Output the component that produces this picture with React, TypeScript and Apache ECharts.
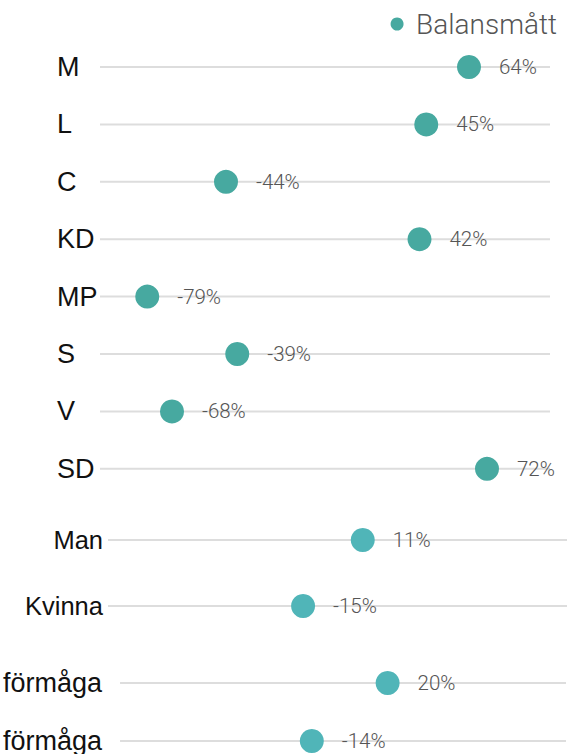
import React, { useEffect, useRef } from "react";
import * as echarts from "echarts";

const seriesName = "Balansmått";
const partyCats = ["M", "L", "C", "KD", "MP", "S", "V", "SD"];
const partyValues = [64, 45, -44, 42, -79, -39, -68, 72];
const genderCats = ["Man", "Kvinna"];
const genderValues = [11, -15];
const abilityCats = ["förmåga", "förmåga"];
const abilityValues = [20, -14];

const partyColor = "#47a9a0";
const groupColor = "#50b5b8";
const lineColor = "#dddddd";

const H = 800;

export default function App() {
  const ref = useRef<HTMLDivElement>(null);
  useEffect(() => {
    if (!ref.current) return;
    const chart = echarts.init(ref.current, null, { renderer: "svg" });
    const groups = [
      { cats: partyCats, vals: partyValues, color: partyColor, grid: { left: 100, right: 26, top: 38.3, height: 459.2 }, fs: 27, margin: 43, align: "left" },
      { cats: genderCats, vals: genderValues, color: groupColor, grid: { left: 108, right: 9, top: 507, height: 132 }, fs: 25.5, margin: 5, align: "right" },
      { cats: abilityCats, vals: abilityValues, color: groupColor, grid: { left: 118, right: 10, top: 654, height: 116 }, fs: 27, margin: 18, align: "right" },
    ];
    const grid: any[] = [];
    const xAxis: any[] = [];
    const yAxis: any[] = [];
    const series: any[] = [];
    groups.forEach((g, i) => {
      grid.push({ ...g.grid, containLabel: false });
      xAxis.push({
        type: "value",
        gridIndex: i,
        min: -100,
        max: 100,
        show: false,
      });
      yAxis.push({
        type: "category",
        gridIndex: i,
        data: g.cats,
        inverse: true,
        axisLine: { show: false },
        axisTick: { show: false },
        splitLine: { show: false },
        axisLabel: {
          color: "#111",
          fontSize: g.fs,
          fontFamily: "Liberation Sans, Arial, sans-serif",
          margin: g.margin,
          align: g.align,
        },
      });
      series.push({
        type: "bar",
        name: "line" + i,
        xAxisIndex: i,
        yAxisIndex: i,
        barWidth: 2,
        showBackground: true,
        backgroundStyle: { color: lineColor },
        data: g.vals.map(() => 0),
        silent: true,
        z: 1,
      });
      series.push({
        type: "scatter",
        name: seriesName,
        xAxisIndex: i,
        yAxisIndex: i,
        symbolSize: 24,
        itemStyle: { color: g.color, opacity: 1 },
        data: g.vals.map((v, k) => [v, k]),
        z: 3,
        label: {
          show: true,
          position: "right",
          distance: 18,
          color: "#555",
          fontSize: 20.5,
          fontFamily: "Roboto, sans-serif",
          fontWeight: 300,
          formatter: (p: any) => p.value[0] + "%",
        },
      });
    });
    chart.setOption({
      animation: false,
      legend: {
        data: [seriesName],
        right: 14,
        top: 5,
        icon: "circle",
        itemWidth: 28,
        itemHeight: 13,
        textStyle: { color: "#555", fontSize: 28, fontFamily: "Roboto, sans-serif", fontWeight: 300 },
      },
      grid,
      xAxis,
      yAxis,
      series,
    });
    return () => chart.dispose();
  }, []);
  return (
    <div style={{ position: "absolute", left: 0, top: 0, width: 576, height: 754, overflow: "hidden", background: "#fff" }}>
      <div ref={ref} style={{ width: 576, height: H }} />
    </div>
  );
}
